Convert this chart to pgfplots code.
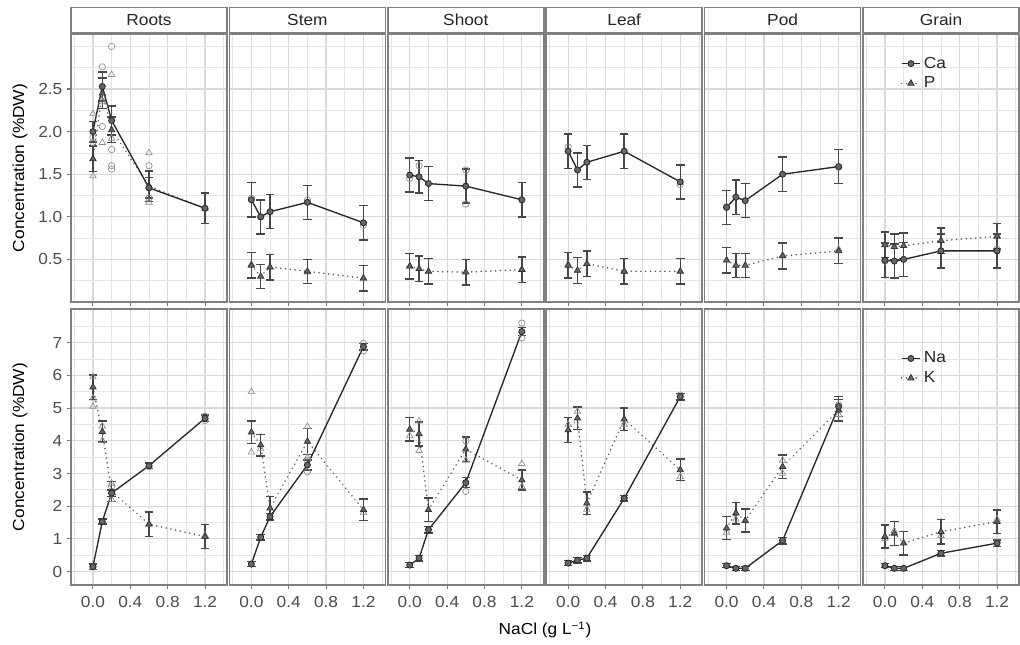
\documentclass[border=0pt]{standalone}
\usepackage{fontspec}
\setmainfont{Liberation Sans}[FakeStretch=1.08]
\usepackage{pgfplots}
\pgfplotsset{compat=1.18}
\newcommand{\fs}{\fontsize{12}{14}\selectfont}
\pgfplotsset{
 base/.style={
   scale only axis, width=117pt,
   xmin=-0.235, xmax=1.435,
   xtick={0,0.4,0.8,1.2}, minor xtick={-0.2,0.2,0.6,1.0,1.4},
   xticklabels={0.0,0.4,0.8,1.2},
   grid=both,
   major grid style={draw=black!15, line width=0.9pt},
   minor grid style={draw=black!10, line width=0.55pt},
   axis line style={draw=black!50, line width=1.1pt},
   tick align=outside, tick pos=left,
   major tick length=3pt, minor tick length=0pt,
   major tick style={draw=black!55, line width=0.8pt},
   ticklabel style={font=\fs, text=black!70},
   xticklabel style={yshift=-2pt},
   every axis title/.style={at={(0.5,1)}, anchor=south, yshift=0.75pt},
   legend image code/.code={\draw[mark repeat=2,mark phase=2,##1] plot coordinates {(0pt,0pt) (7pt,0pt) (14pt,0pt)};},
 },
 toprow/.style={height=201pt, ymin=0, ymax=3.146, ytick={0.5,1,1.5,2,2.5},
   yticklabels={0.5,1.0,1.5,2.0,2.5}, minor ytick={0.25,0.75,1.25,1.75,2.25,2.75,3.0}, xticklabels={}},
 botrow/.style={height=207pt, ymin=-0.41, ymax=8.03, ytick={0,1,2,3,4,5,6,7},
   yticklabels={0,1,2,3,4,5,6,7}, minor ytick={0.5,1.5,2.5,3.5,4.5,5.5,6.5,7.5}},
 noy/.style={yticklabels={}, ytick style={draw=none}},
 firstcol/.style={ylabel={Concentration (\%DW)}, ylabel style={at={(axis description cs:-0.327,0.5)}, anchor=center, font=\fs, text=black}},
 strip/.style={title={#1}, title style={draw=black!50, line width=1.1pt, fill=white, minimum width=117pt, minimum height=18.75pt, inner sep=0pt, font=\fs, text=black!85}},
 solidser/.style={draw=black!85, line width=1pt, mark=*, mark size=2.3pt,
   mark options={solid, fill=black!60, draw=black!85, line width=0.6pt},
   error bars/.cd, y dir=both, y explicit, error mark=-,
   error bar style={solid, line width=1.1pt, draw=black!72},
   error mark options={rotate=90, solid, line width=1.1pt, mark size=3.2pt, draw=black!72}},
 dotser/.style={draw=black!65, line width=1.3pt, dash pattern=on 0.01pt off 3.6pt, line cap=round,
   mark=triangle*, mark size=2.7pt,
   mark options={solid, fill=black!60, draw=black!80, line width=0.6pt},
   error bars/.cd, y dir=both, y explicit, error mark=-,
   error bar style={solid, line width=1.1pt, draw=black!72},
   error mark options={rotate=90, solid, line width=1.1pt, mark size=3.2pt, draw=black!72}},
 rawc/.style={only marks, mark=o, mark size=2.4pt, mark options={draw=black!45, line width=0.5pt}, forget plot},
 rawt/.style={only marks, mark=triangle, mark size=2.8pt, mark options={draw=black!45, line width=0.5pt}, forget plot},
 leg/.style 2 args={legend entries={#1}, reverse legend, legend cell align=left,
   legend style={draw=none, fill=none, at={(0.24,#2)}, anchor=north west, font=\fs,
   inner sep=0pt, row sep=1pt, nodes={inner sep=2pt, text=black!85}}},
}
% #1 options, #2 solid series, #3 dotted series, #4 raw circles, #5 raw triangles
\newcommand{\panel}[5]{%
\begin{axis}[base,#1]
\addplot[rawc] coordinates {#4};
\addplot[rawt] coordinates {#5};
\addplot[dotser] coordinates {#3};
\addplot[solidser] coordinates {#2};
\end{axis}}
\begin{document}
\begin{tikzpicture}
\path[use as bounding box] (0,0) rectangle (765pt,483pt);
% ---------------- top row: Ca (solid), P (dotted)
\panel{toprow, firstcol, strip=Roots, at={(53.25pt,256.5pt)}, anchor=south west}
 {(0,2.00) +- (0,0.12) (0.1,2.53) +- (0,0.17) (0.2,2.13) +- (0,0.17) (0.6,1.34) +- (0,0.12) (1.2,1.10) +- (0,0.18)}
 {(0,1.68) +- (0,0.15) (0.1,2.45) +- (0,0.18) (0.2,2.02) +- (0,0.15) (0.6,1.36) +- (0,0.18) (1.2,1.10) +- (0,0.18)}
 {(0,1.87) (0,1.93) (0.1,2.76) (0.1,2.06) (0.2,3.0) (0.2,1.79) (0.2,1.6) (0.2,1.56) (0.6,1.6) (0.6,1.22)}
 {(0,2.21) (0,1.48) (0.1,2.35) (0.1,1.87) (0.2,2.67) (0.2,1.92) (0.6,1.75) (0.6,1.17)}
\panel{toprow, noy, strip=Stem, at={(172.05pt,256.5pt)}, anchor=south west}
 {(0,1.20) +- (0,0.20) (0.1,1.00) +- (0,0.20) (0.2,1.06) +- (0,0.20) (0.6,1.17) +- (0,0.20) (1.2,0.93) +- (0,0.20)}
 {(0,0.43) +- (0,0.15) (0.1,0.30) +- (0,0.14) (0.2,0.41) +- (0,0.15) (0.6,0.36) +- (0,0.14) (1.2,0.28) +- (0,0.15)}
 {(0,1.22) (0.1,1.0) (0.6,1.2) (1.2,0.9)}
 {(0,0.44) (0.6,0.35) (1.2,0.27)}
\panel{toprow, noy, strip=Shoot, at={(290.85pt,256.5pt)}, anchor=south west}
 {(0,1.49) +- (0,0.20) (0.1,1.47) +- (0,0.19) (0.2,1.39) +- (0,0.20) (0.6,1.36) +- (0,0.20) (1.2,1.20) +- (0,0.20)}
 {(0,0.42) +- (0,0.15) (0.1,0.39) +- (0,0.15) (0.2,0.36) +- (0,0.15) (0.6,0.35) +- (0,0.15) (1.2,0.38) +- (0,0.15)}
 {(0,1.45) (0.1,1.6) (0.6,1.15) (0.6,1.55)}
 {(0,0.42) (1.2,0.38)}
\panel{toprow, noy, strip=Leaf, at={(409.65pt,256.5pt)}, anchor=south west}
 {(0,1.77) +- (0,0.20) (0.1,1.55) +- (0,0.20) (0.2,1.64) +- (0,0.20) (0.6,1.77) +- (0,0.20) (1.2,1.41) +- (0,0.20)}
 {(0,0.43) +- (0,0.15) (0.1,0.37) +- (0,0.15) (0.2,0.45) +- (0,0.15) (0.6,0.36) +- (0,0.15) (1.2,0.36) +- (0,0.15)}
 {(0,1.82) (1.2,1.38)}
 {(0,0.44) (0.6,0.36)}
\panel{toprow, noy, strip=Pod, at={(528.45pt,256.5pt)}, anchor=south west}
 {(0,1.11) +- (0,0.20) (0.1,1.23) +- (0,0.20) (0.2,1.19) +- (0,0.20) (0.6,1.50) +- (0,0.20) (1.2,1.59) +- (0,0.20)}
 {(0,0.49) +- (0,0.15) (0.1,0.43) +- (0,0.14) (0.2,0.43) +- (0,0.14) (0.6,0.54) +- (0,0.15) (1.2,0.60) +- (0,0.15)}
 {(0,1.12) (1.2,1.58)}
 {(0.6,0.55) (1.2,0.62)}
\panel{toprow, noy, strip=Grain, leg={P,Ca}{0.925}, at={(647.25pt,256.5pt)}, anchor=south west}
 {(0,0.49) +- (0,0.20) (0.1,0.48) +- (0,0.20) (0.2,0.50) +- (0,0.20) (0.6,0.60) +- (0,0.20) (1.2,0.60) +- (0,0.20)}
 {(0,0.67) +- (0,0.15) (0.1,0.65) +- (0,0.15) (0.2,0.66) +- (0,0.15) (0.6,0.72) +- (0,0.15) (1.2,0.77) +- (0,0.15)}
 {(0,0.48) (1.2,0.62)}
 {(0,0.68) (1.2,0.78)}
% ---------------- bottom row: Na (solid), K (dotted)
\panel{botrow, firstcol, at={(53.25pt,44.25pt)}, anchor=south west}
 {(0,0.15) +- (0,0.08) (0.1,1.53) +- (0,0.08) (0.2,2.40) +- (0,0.10) (0.6,3.24) +- (0,0.08) (1.2,4.69) +- (0,0.10)}
 {(0,5.64) +- (0,0.37) (0.1,4.28) +- (0,0.32) (0.2,2.45) +- (0,0.30) (0.6,1.45) +- (0,0.37) (1.2,1.07) +- (0,0.37)}
 {(0,0.15) (0.2,2.6) (0.6,3.2) (1.2,4.75) (1.2,4.62)}
 {(0,5.95) (0,5.05) (0,5.3) (0.1,4.45) (0.1,4.0) (0.2,2.2) (0.2,2.7) (0.6,1.45) (1.2,1.1)}
\panel{botrow, noy, at={(172.05pt,44.25pt)}, anchor=south west}
 {(0,0.23) +- (0,0.08) (0.1,1.05) +- (0,0.08) (0.2,1.68) +- (0,0.10) (0.6,3.26) +- (0,0.15) (1.2,6.88) +- (0,0.10)}
 {(0,4.26) +- (0,0.34) (0.1,3.87) +- (0,0.33) (0.2,1.94) +- (0,0.35) (0.6,3.98) +- (0,0.40) (1.2,1.89) +- (0,0.33)}
 {(0.6,3.05) (0.6,3.4) (1.2,6.98) (1.2,6.75)}
 {(0,5.5) (0,3.65) (0.1,3.75) (0.6,4.43) (0.6,3.5) (1.2,1.8)}
\panel{botrow, noy, at={(290.85pt,44.25pt)}, anchor=south west}
 {(0,0.20) +- (0,0.08) (0.1,0.41) +- (0,0.08) (0.2,1.28) +- (0,0.10) (0.6,2.72) +- (0,0.15) (1.2,7.34) +- (0,0.12)}
 {(0,4.35) +- (0,0.36) (0.1,4.21) +- (0,0.37) (0.2,1.89) +- (0,0.36) (0.6,3.74) +- (0,0.37) (1.2,2.80) +- (0,0.30)}
 {(0.6,2.45) (0.6,4.0) (1.2,7.6) (1.2,7.15)}
 {(0,4.15) (0.1,4.6) (0.1,3.7) (0.6,3.4) (1.2,3.3) (1.2,2.6)}
\panel{botrow, noy, at={(409.65pt,44.25pt)}, anchor=south west}
 {(0,0.26) +- (0,0.08) (0.1,0.35) +- (0,0.08) (0.2,0.41) +- (0,0.08) (0.6,2.24) +- (0,0.08) (1.2,5.35) +- (0,0.10)}
 {(0,4.33) +- (0,0.38) (0.1,4.69) +- (0,0.35) (0.2,2.09) +- (0,0.35) (0.6,4.66) +- (0,0.35) (1.2,3.11) +- (0,0.33)}
 {(1.2,5.4) (0.6,2.25)}
 {(0,4.5) (0.1,4.9) (0.2,1.9) (0.6,4.5) (1.2,2.9)}
\panel{botrow, noy, at={(528.45pt,44.25pt)}, anchor=south west}
 {(0,0.18) +- (0,0.06) (0.1,0.10) +- (0,0.06) (0.2,0.10) +- (0,0.06) (0.6,0.95) +- (0,0.10) (1.2,5.05) +- (0,0.30)}
 {(0,1.33) +- (0,0.35) (0.1,1.79) +- (0,0.33) (0.2,1.56) +- (0,0.35) (0.6,3.21) +- (0,0.36) (1.2,4.94) +- (0,0.33)}
 {(1.2,5.1) (0.6,0.95)}
 {(0,1.2) (0.1,1.6) (0.6,3.0) (0.6,3.4) (1.2,4.8)}
\panel{botrow, noy, leg={K,Na}{0.855}, at={(647.25pt,44.25pt)}, anchor=south west}
 {(0,0.18) +- (0,0.06) (0.1,0.10) +- (0,0.06) (0.2,0.10) +- (0,0.06) (0.6,0.56) +- (0,0.08) (1.2,0.87) +- (0,0.10)}
 {(0,1.07) +- (0,0.35) (0.1,1.17) +- (0,0.37) (0.2,0.87) +- (0,0.36) (0.6,1.22) +- (0,0.38) (1.2,1.53) +- (0,0.36)}
 {(1.2,0.9) (0.6,0.56)}
 {(0,1.0) (0.1,1.25) (0.6,1.1) (1.2,1.6)}
\node[font=\fs, text=black] at (408.75pt,10.5pt) {NaCl (g L\textsuperscript{−1})};
\end{tikzpicture}
\end{document}
